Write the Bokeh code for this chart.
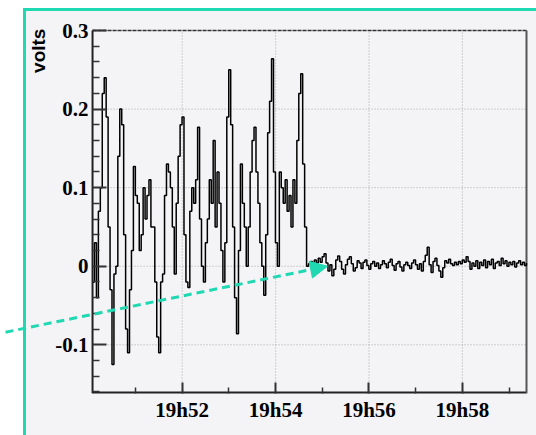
from bokeh.plotting import figure
from bokeh.models import FixedTicker, Range1d, Arrow, NormalHead, Label
from bokeh.embed import file_html
from bokeh.resources import INLINE

# ---- data (volts, sampled every 2.5 s starting 19h50.08) ----
signal_active = [
    -0.02, 0.03, -0.04, 0.07, 0.10, 0.22, 0.24, 0.19, 0.05, -0.03,
    -0.125, -0.01, 0.00, 0.14, 0.20, 0.18, 0.04, -0.08, -0.11, -0.03,
    0.02, 0.127, 0.09, 0.08, 0.02, 0.04, 0.10, 0.06, 0.09, 0.11,
    0.05, 0.05, -0.02, -0.09, -0.11, -0.02, -0.01, 0.09, 0.13, 0.12,
    0.10, 0.05, -0.01, 0.08, 0.14, 0.18, 0.19, 0.04, -0.02, -0.027,
    0.07, 0.10, 0.08, 0.11, 0.177, 0.06, 0.00, -0.02, 0.03, 0.06,
    0.11, 0.08, 0.16, 0.05, 0.12, 0.08, 0.02, -0.02, 0.03, 0.19,
    0.25, 0.18, 0.05, -0.04, -0.086, 0.02, 0.13, 0.08, 0.05, 0.00,
    0.05, 0.12, 0.16, 0.177, 0.12, 0.08, 0.03, 0.00, -0.037, 0.04,
    0.17, 0.21, 0.264, 0.12, 0.03, 0.00, 0.12, 0.10, 0.08, 0.11,
    0.07, 0.09, 0.05, 0.11, 0.08, 0.16, 0.22, 0.245, 0.13, 0.05,
    0.00,
]
signal_quiet = [
    0.003, 0.006, 0.002, 0.008, 0.004, 0.010, 0.005, 0.012, 0.016, 0.004,
    -0.006, 0.002, -0.012, -0.004, 0.008, 0.013, 0.006, -0.004, -0.010, 0.002,
    0.009, 0.012, 0.003, -0.006, -0.002, 0.007, 0.004, -0.003, 0.005, 0.008,
    0.001, -0.004, 0.003, 0.006, 0.000, 0.004, -0.003, 0.002, 0.007, 0.003,
    -0.002, 0.005, 0.009, 0.001, -0.005, 0.003, 0.006, -0.001, -0.006, 0.002,
    0.005, 0.001, -0.003, 0.004, 0.008, 0.002, -0.004, 0.003, -0.006, 0.006,
    0.014, 0.024, 0.002, -0.008, 0.006, 0.010, 0.001, -0.006, -0.014, -0.002,
    0.007, 0.004, 0.009, 0.003, 0.001, 0.005, 0.002, 0.006, 0.003, 0.008,
    0.005, 0.012, 0.006, -0.004, 0.004, 0.000, 0.007, -0.003, 0.005, 0.001,
    0.008, -0.002, 0.006, 0.002, 0.009, -0.003, 0.004, 0.006, 0.001, 0.010,
    0.003, 0.007, 0.000, 0.005, 0.002, 0.006, -0.001, 0.004, 0.007, 0.002,
    0.005, 0.001, 0.004,
]
volts = signal_active + signal_quiet
SAMPLE_START = 50.08          # minutes after 19h00
SAMPLE_STEP = 2.5 / 60.0      # minutes
minutes = [SAMPLE_START + i * SAMPLE_STEP for i in range(len(volts))]

x_major = [52, 54, 56, 58]
x_minor = [51, 53, 55, 57, 59]
x_labels = ["19h52", "19h54", "19h56", "19h58"]
y_major = [-0.1, 0, 0.1, 0.2, 0.3]
y_labels = ["-0.1", "0", "0.1", "0.2", "0.3"]
y_minor = [-0.16, -0.14, -0.12, -0.08, -0.06, -0.04, -0.02,
           0.02, 0.04, 0.06, 0.08, 0.12, 0.14, 0.16, 0.18,
           0.22, 0.24, 0.26, 0.28]

# plot box (axis limits) and the wider view used for the arrow / labels
X0, X1 = 50.08, 59.373
Y0, Y1 = -0.162, 0.3
VIEW_X0, VIEW_X1 = 48.109, 59.587
VIEW_Y1 = 0.3255

TEAL = "#20d8b2"
PANEL = "#f4f3f6"
GRID = "#a8a8a8"

p = figure(width=536, height=435,
           x_range=Range1d(VIEW_X0, VIEW_X1), y_range=Range1d(Y0, VIEW_Y1),
           output_backend="svg", toolbar_location=None,
           min_border_left=0, min_border_right=0,
           min_border_top=10, min_border_bottom=42)
p.styles = {
    "background": (
        f"linear-gradient({TEAL},{TEAL}) 23px 8px / 3px 100% no-repeat, "
        f"linear-gradient({TEAL},{TEAL}) 23px 8px / 100% 3px no-repeat, "
        f"linear-gradient({PANEL},{PANEL}) 23px 8px / 100% 100% no-repeat, "
        "#ffffff"
    )
}
p.border_fill_color = None
p.background_fill_color = None
p.outline_line_color = None

# axes
for ax in (p.xaxis[0], p.yaxis[0]):
    ax.major_tick_line_color = "#333333"
    ax.minor_tick_line_color = "#333333"
    ax.major_tick_line_width = 2
    ax.minor_tick_line_width = 1.5
    ax.major_tick_out = 0
    ax.minor_tick_out = 0
    ax.major_label_text_font = "Liberation Serif"
    ax.major_label_text_font_style = "bold"
    ax.major_label_text_font_size = "21px"
    ax.major_label_text_color = "#000000"
    ax.axis_line_color = None

p.xaxis.ticker = FixedTicker(ticks=x_major, minor_ticks=x_minor)
p.xaxis.major_label_overrides = dict(zip(x_major, x_labels))
p.xaxis.major_tick_in = 11
p.xaxis.minor_tick_in = 6
p.xaxis.major_label_standoff = 4

p.yaxis.fixed_location = X0
p.yaxis.ticker = FixedTicker(ticks=y_major, minor_ticks=y_minor)
p.yaxis.major_label_overrides = dict(zip(y_major, y_labels))
p.yaxis.major_tick_in = 14
p.yaxis.minor_tick_in = 7
p.yaxis.major_label_standoff = 4

p.xgrid.visible = False
p.ygrid.visible = False
# dotted grid limited to the plot box
p.segment(x0=[X0] * len(y_major), x1=[X1] * len(y_major), y0=y_major, y1=y_major,
          line_color=GRID, line_dash="1 2", line_width=1)
p.segment(x0=x_major, x1=x_major, y0=[Y0] * len(x_major), y1=[Y1] * len(x_major),
          line_color=GRID, line_dash="1 2", line_width=1)

# plot box border
p.segment(x0=[X0], x1=[X1], y0=[Y0], y1=[Y0], line_color="#222222", line_width=4)
p.segment(x0=[X0], x1=[X0], y0=[Y0], y1=[Y1], line_color="#222222", line_width=2)
p.segment(x0=[X0], x1=[X1], y0=[Y1], y1=[Y1], line_color="#333333", line_width=1.5,
          line_dash="4 1")
p.segment(x0=[X1], x1=[X1], y0=[Y0], y1=[Y1], line_color="#555555", line_width=2)

p.step(minutes, volts, mode="after", line_color="#000000", line_width=1.5)

p.add_layout(Arrow(end=NormalHead(size=17, fill_color=TEAL, line_color=TEAL),
                   x_start=48.216, y_start=-0.084, x_end=55.11, y_end=0.0,
                   line_color=TEAL, line_width=3, line_dash="8 5"))

p.add_layout(Label(x=48.923, y=0.3025, text="volts", angle=90, angle_units="deg",
                   text_align="right", text_baseline="alphabetic",
                   text_font="Liberation Sans", text_font_style="bold",
                   text_font_size="19px", text_color="#000000"))

open("out.html", "w").write(file_html(p, INLINE))
